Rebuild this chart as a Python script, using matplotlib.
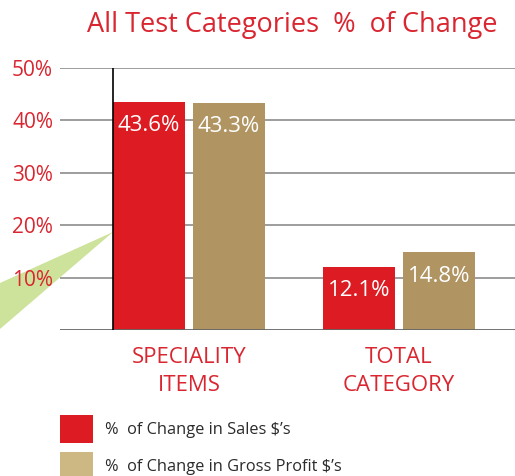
import matplotlib.pyplot as plt
from matplotlib.patches import Polygon, Rectangle
import numpy as np

# Data
categories = ["SPECIALITY\nITEMS", "TOTAL\nCATEGORY"]
sales_change = [43.6, 12.1]
profit_change = [43.3, 14.8]
y_ticks = [10, 20, 30, 40, 50]
legend_labels = ["%  of Change in Sales $\u2019s", "%  of Change in Gross Profit $\u2019s"]

RED = "#dc1c22"
TAN = "#b09563"
TAN_LIGHT = "#cdb884"
TEXT_RED = "#d92630"
GREEN = "#cde29a"

plt.rcParams['font.family'] = ['Open Sans', 'DejaVu Sans']

fig = plt.figure(figsize=(5.15, 4.76), dpi=100)

# green wedge coming in from the left edge
wedge = Polygon([[0, 1 - 283 / 476], [113 / 515, 1 - 232 / 476], [0, 1 - 329 / 476]],
                closed=True, transform=fig.transFigure, facecolor=GREEN,
                edgecolor="none", zorder=0)
fig.patches.append(wedge)

ax = fig.add_axes([60 / 515, 146 / 476, 455 / 515, 262 / 476])
ax.set_zorder(2)
ax.patch.set_alpha(0)

x = np.arange(len(categories))
width = 0.343
offset = 0.19

for y in y_ticks:
    ax.axhline(y, color="#8c8c8c", lw=1.2, zorder=1)
ax.axhline(0, color="#666666", lw=2, zorder=3)

b1 = ax.bar(x - offset, sales_change, width, color=RED, zorder=2)
b2 = ax.bar(x + offset, profit_change, width, color=TAN, zorder=2)

# vertical axis line at the left edge of the first bar
ax.plot([x[0] - offset - width / 2] * 2, [0, 50], color="black", lw=1.2, zorder=4)

for bars, vals in ((b1, sales_change), (b2, profit_change)):
    for b, v in zip(bars, vals):
        ax.text(b.get_x() + b.get_width() / 2, v - 4.5, f"{v}%", ha="center",
                va="center", color="white", fontsize=16, zorder=5)

ax.set_xlim(-0.614, 1.552)
ax.set_ylim(0, 50)
for s in ax.spines.values():
    s.set_visible(False)
ax.set_yticks(y_ticks)
ax.set_yticklabels([f"{t}%" for t in y_ticks], color=TEXT_RED, fontsize=15)
ax.tick_params(axis="y", length=0, pad=5)
ax.tick_params(axis="x", length=0, pad=12)
ax.set_xticks(x)
ax.set_xticklabels(categories, color=TEXT_RED, fontsize=16, linespacing=1.45)

fig.text(292 / 515, 1 - 25 / 476, "All Test Categories  %  of Change", ha="center",
         va="center", color=TEXT_RED, fontsize=19.5)

# legend
for i, (lab, col) in enumerate(zip(legend_labels, [RED, TAN_LIGHT])):
    top = 415 + i * 37
    fig.patches.append(Rectangle((60 / 515, 1 - (top + 28) / 476), 33 / 515, 28 / 476,
                                 transform=fig.transFigure, facecolor=col,
                                 edgecolor="none"))
    fig.text(105 / 515, 1 - (top + 15) / 476, lab, ha="left", va="center",
             color="#2b2b2b", fontsize=11.8)

fig.savefig("out.png", dpi=100)
